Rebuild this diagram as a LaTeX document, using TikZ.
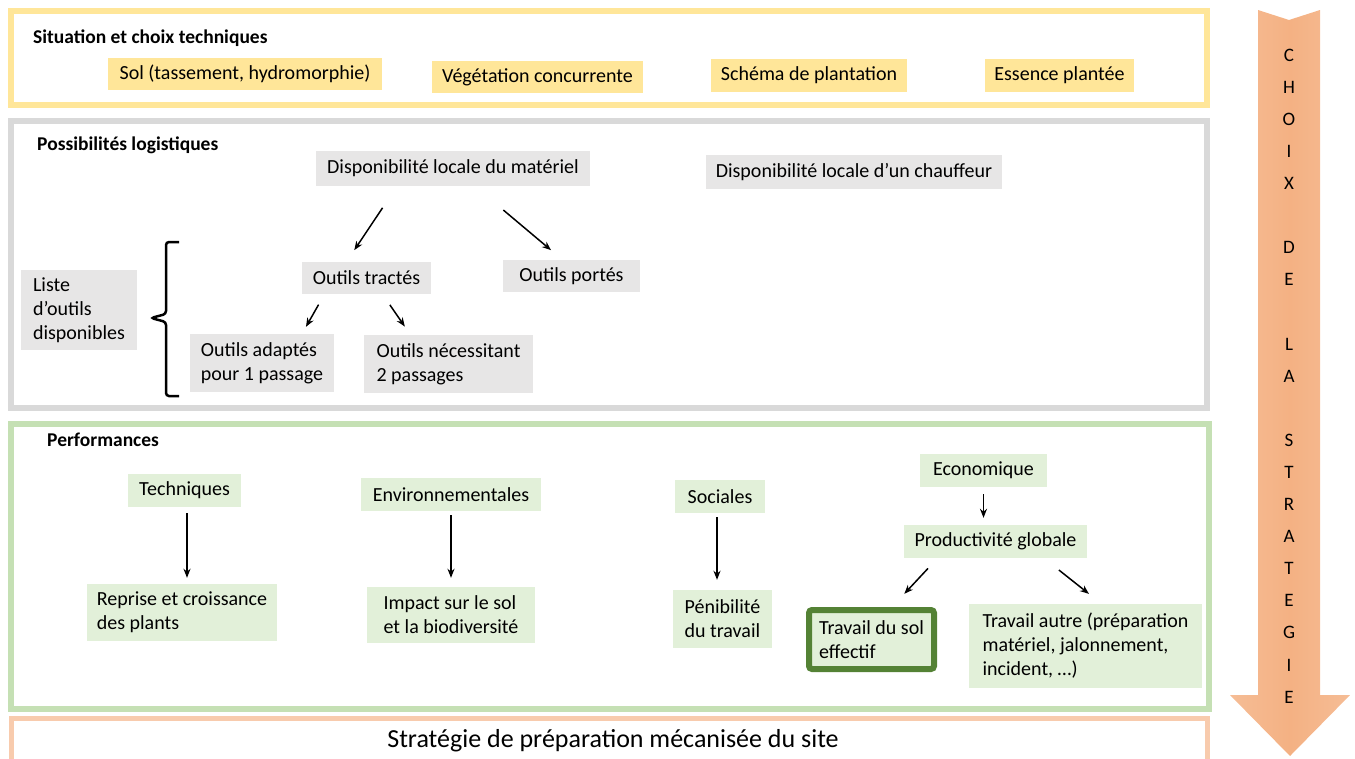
\documentclass[tikz,border=0pt]{standalone}
\usepackage{fontspec}
\setmainfont{Carlito}
\usepackage{tikz}
\usetikzlibrary{arrows.meta}
\definecolor{jaune}{RGB}{255,230,153}
\definecolor{gris}{RGB}{217,217,217}
\definecolor{grisclair}{RGB}{231,230,230}
\definecolor{vert}{RGB}{197,224,180}
\definecolor{vertclair}{RGB}{226,240,217}
\definecolor{vertfonce}{RGB}{84,130,53}
\definecolor{saumon}{RGB}{248,203,173}
\definecolor{orange}{RGB}{244,177,131}
\tikzset{frame/.style = {line width=6pt}}
\tikzset{txt/.style = {font=\fontsize{20}{24}\selectfont, inner sep=0pt, align=left}}
\tikzset{titre/.style = {font=\fontsize{19.5}{22}\selectfont\bfseries, anchor=west, inner sep=0pt}}
\tikzset{sz/.style 2 args = {minimum width=#1pt, minimum height=#2pt}}
\tikzset{jbox/.style = {txt, fill=jaune}}
\tikzset{gbox/.style = {txt, fill=grisclair}}
\tikzset{vbox/.style = {txt, fill=vertclair}}
\tikzset{edge/.style = {line width=1.5pt, -{Stealth[length=9pt,width=7pt]}}}

\begin{document}
\begin{tikzpicture}[x=1pt,y=-1pt]
\useasboundingbox (0,0) rectangle (1355,758);
% frames
\draw[frame, jaune] (11,11) rectangle (1207,105);
\draw[frame, gris] (11,121) rectangle (1207,408);
\draw[frame, vert] (11,424) rectangle (1209,709);
\draw[frame, saumon, line width=5pt] (11,718) rectangle (1207,762);
% strategy arrow
\shade[left color=orange!85!white, right color=orange!85!white, middle color=orange] (1258,10) -- (1289,20) -- (1320,10) -- (1320,695) -- (1350,695)
  -- (1290,756) -- (1230,695) -- (1258,695) -- cycle;
\foreach \l [count=\i from 0] in {C,H,O,I,X,{},D,E,{},L,A,{},S,T,R,A,T,E,G,I,E}
  \node[txt, font=\fontsize{19}{22}\selectfont] (l\i) at (1289,55+32.1*\i) {\l};
% titles
\node[titre] (t1) at (33,38) {Situation et choix techniques};
\node[titre] (t2) at (37,145) {Possibilités logistiques};
\node[titre] (t3) at (47,440) {Performances};
% situation
\node[jbox, sz={274}{32}] (sol) at (245,74) {Sol (tassement, hydromorphie)};
\node[jbox, sz={211}{32}] (veg) at (537.5,77) {Végétation concurrente};
\node[jbox, sz={196}{33}] (sch) at (809,75.5) {Schéma de plantation};
\node[jbox, sz={149}{33}] (ess) at (1059.5,75.5) {Essence plantée};
% logistique
\node[gbox, sz={274}{35}] (mat) at (453,168.5) {Disponibilité locale du matériel};
\node[gbox, sz={296}{34}] (chf) at (854,172) {Disponibilité locale d’un chauffeur};
\node[gbox, sz={129}{32}] (tra) at (366.5,278) {Outils tractés};
\node[gbox, sz={137}{32}] (por) at (571.5,276) {Outils portés};
\node[gbox, sz={144}{58}] (ada) at (262,363) {Outils adaptés\\pour 1 passage};
\node[gbox, sz={169}{58}] (nec) at (448.5,364) {Outils nécessitant\\2 passages};
\node[gbox, sz={116}{80}] (lst) at (79,310) {Liste\\d’outils\\disponibles};
\draw[line width=2.5pt, rounded corners=3pt] (179,242) -- (166,242) -- (166,314)
  -- (151,318) -- (166,322) -- (166,396) -- (179,396);
%edges
\draw[edge, shorten <=26pt, shorten >=14pt] ([xshift=-56pt]mat.south) -- ([xshift=-20pt]tra.north);
\draw[edge, shorten <=37pt, shorten >=15pt] ([xshift=22pt]mat.south) -- ([xshift=-9pt]por.north);
\draw[edge, shorten <=12pt, shorten >=8pt] ([xshift=-42pt]tra.south) -- ([xshift=40pt]ada.north);
\draw[edge, shorten <=13pt, shorten >=10pt] ([xshift=16pt]tra.south) -- ([xshift=-38pt]nec.north);
% performances
\node[vbox, sz={113}{33}] (tech) at (184.5,490.5) {Techniques};
\node[vbox, sz={180}{33}] (env) at (451,494.5) {Environnementales};
\node[vbox, sz={90}{33}] (soc) at (720,496.5) {Sociales};
\node[vbox, sz={127}{33}] (eco) at (983.5,470.5) {Economique};
\node[vbox, sz={190}{57}] (rep) at (182,612.5) {Reprise et croissance\\des plants};
\node[vbox, sz={168}{56}] (imp) at (451,615) {Impact sur le sol\\et la biodiversité};
\node[vbox, sz={99}{58}] (pen) at (722.5,619) {Pénibilité\\du travail};
\node[vbox, sz={183}{33}] (prod) at (995.5,541.5) {Productivité globale};
\node[vbox, sz={125}{59}, draw=vertfonce, line width=6pt, rounded corners=3pt] (trs) at (871.5,639.5) {Travail du sol\\effectif};
\node[vbox, sz={233}{84}] (aut) at (1085.5,646) {Travail autre (préparation\\matériel, jalonnement,\\incident, …)};
%edges
\draw[edge, shorten <=6pt, shorten >=6pt] ([xshift=2.5pt]tech.south) -- ([xshift=2.5pt]tech.south |- rep.north);
\draw[edge, shorten <=4pt, shorten >=9pt] (env.south) -- (env.south |- imp.north);
\draw[edge, shorten <=4pt, shorten >=10pt] ([xshift=-3pt]soc.south) -- ([xshift=-3pt]soc.south |- pen.north);
\draw[edge, shorten <=7pt, shorten >=7pt] (eco.south) -- (eco.south |- prod.north);
\draw[edge, shorten <=14pt, shorten >=18pt] ([xshift=-58pt]prod.south) -- ([xshift=20.5pt]trs.north);
\draw[edge, shorten <=19pt, shorten >=16pt] ([xshift=48.5pt]prod.south) -- ([xshift=16pt]aut.north);
% bottom
\node[txt, font=\fontsize{26}{30}\selectfont] (strat) at (613,741) {Stratégie de préparation mécanisée du site};
\end{tikzpicture}
\end{document}
